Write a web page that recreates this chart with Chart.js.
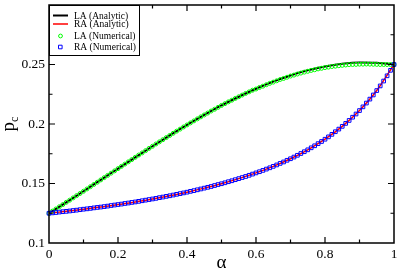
<!DOCTYPE html>
<html><head><meta charset="utf-8">
<script src="https://cdn.jsdelivr.net/npm/chart.js@4.4.1/dist/chart.umd.min.js"></script>
<style>html,body{margin:0;padding:0;background:#fff;}#wrap{width:399px;height:272px;position:relative;}canvas{display:block;}</style>
</head><body><div id="wrap"><canvas id="c" width="399" height="272"></canvas></div>
<script>
const alphaLine = [0,0.05,0.1,0.15,0.2,0.25,0.3,0.35,0.4,0.45,0.5,0.55,0.6,0.65,0.7,0.75,0.8,0.85,0.9,0.95,1];
const laAnalytic = [0.1250,0.1342,0.1435,0.1530,0.1625,0.1720,0.1813,0.1904,0.1992,0.2076,0.2156,0.2229,0.2296,0.2356,0.2408,0.2451,0.2484,0.2506,0.2517,0.2515,0.2500];
const raAnalytic = [0.1250,0.1266,0.1284,0.1302,0.1323,0.1345,0.1370,0.1397,0.1427,0.1461,0.1498,0.1541,0.1589,0.1644,0.1708,0.1783,0.1872,0.1980,0.2113,0.2281,0.2500];
const alphaNum = [0,0.01,0.02,0.03,0.04,0.05,0.06,0.07,0.08,0.09,
0.1,0.11,0.12,0.13,0.14,0.15,0.16,0.17,0.18,0.19,
0.2,0.21,0.22,0.23,0.24,0.25,0.26,0.27,0.28,0.29,
0.3,0.31,0.32,0.33,0.34,0.35,0.36,0.37,0.38,0.39,
0.4,0.41,0.42,0.43,0.44,0.45,0.46,0.47,0.48,0.49,
0.5,0.51,0.52,0.53,0.54,0.55,0.56,0.57,0.58,0.59,
0.6,0.61,0.62,0.63,0.64,0.65,0.66,0.67,0.68,0.69,
0.7,0.71,0.72,0.73,0.74,0.75,0.76,0.77,0.78,0.79,
0.8,0.81,0.82,0.83,0.84,0.85,0.86,0.87,0.88,0.89,
0.9,0.91,0.92,0.93,0.94,0.95,0.96,0.97,0.98,0.99,1];
const laNumerical = [0.1250,0.1268,0.1286,0.1305,0.1323,0.1342,0.1360,0.1379,0.1398,0.1416,
0.1435,0.1454,0.1473,0.1492,0.1511,0.1530,0.1549,0.1568,0.1587,0.1606,
0.1625,0.1644,0.1663,0.1682,0.1701,0.1720,0.1739,0.1757,0.1776,0.1795,
0.1813,0.1832,0.1850,0.1868,0.1886,0.1904,0.1922,0.1940,0.1957,0.1975,
0.1992,0.2009,0.2026,0.2043,0.2060,0.2076,0.2092,0.2109,0.2124,0.2140,
0.2156,0.2171,0.2186,0.2200,0.2215,0.2229,0.2243,0.2257,0.2270,0.2284,
0.2294,0.2307,0.2318,0.2330,0.2342,0.2352,0.2363,0.2374,0.2383,0.2393,
0.2403,0.2411,0.2420,0.2428,0.2436,0.2443,0.2450,0.2456,0.2463,0.2468,
0.2474,0.2478,0.2483,0.2486,0.2490,0.2493,0.2496,0.2499,0.2500,0.2501,
0.2503,0.2503,0.2504,0.2503,0.2502,0.2501,0.2500,0.2500,0.2500,0.2500,0.2500];
const raNumerical = [0.1250,0.1253,0.1256,0.1260,0.1263,0.1266,0.1269,0.1273,0.1276,0.1280,
0.1284,0.1287,0.1291,0.1295,0.1299,0.1302,0.1306,0.1310,0.1315,0.1319,
0.1323,0.1327,0.1332,0.1336,0.1341,0.1345,0.1350,0.1355,0.1360,0.1365,
0.1370,0.1375,0.1381,0.1386,0.1392,0.1397,0.1403,0.1409,0.1415,0.1421,
0.1427,0.1434,0.1440,0.1447,0.1454,0.1461,0.1468,0.1475,0.1483,0.1491,
0.1498,0.1506,0.1515,0.1523,0.1532,0.1541,0.1550,0.1559,0.1569,0.1579,
0.1589,0.1599,0.1610,0.1621,0.1632,0.1644,0.1656,0.1669,0.1681,0.1695,
0.1708,0.1722,0.1737,0.1752,0.1767,0.1783,0.1800,0.1817,0.1835,0.1853,
0.1872,0.1892,0.1913,0.1935,0.1957,0.1980,0.2005,0.2030,0.2057,0.2084,
0.2113,0.2144,0.2176,0.2209,0.2244,0.2281,0.2320,0.2361,0.2405,0.2451,0.2500];
const xTickValues = [0,0.2,0.4,0.6,0.8,1];
const xTickLabels = ['0','0.2','0.4','0.6','0.8','1'];
const xMinorTicks = [0.1,0.3,0.5,0.7,0.9];
const yTickValues = [0.1,0.15,0.2,0.25,0.3];
const yTickLabels = ['0.1','0.15','0.2','0.25',''];
const yMinorTicks = [0.125,0.175,0.225,0.275];
const seriesLabels = ['LA (Analytic)','RA (Analytic)','LA (Numerical)','RA (Numerical)'];

const SERIF = "'Liberation Serif','DejaVu Serif',serif";
const pts = (xs, ys) => xs.map((x, i) => ({x: x, y: ys[i]}));

const decor = {
  id: 'decor',
  afterDraw(chart) {
    const ctx = chart.ctx, a = chart.chartArea;
    const xs = chart.scales.x, ys = chart.scales.y;
    ctx.save();
    ctx.strokeStyle = '#000';
    ctx.lineWidth = 1.5;
    ctx.strokeRect(a.left, a.top, a.right - a.left, a.bottom - a.top);
    ctx.lineWidth = 1.2;
    ctx.beginPath();
    const tick = (list, len) => {
      list.forEach(v => {
        const px = xs.getPixelForValue(v);
        if (v > 0 && v < 1) {
          ctx.moveTo(px, a.bottom); ctx.lineTo(px, a.bottom - len);
          ctx.moveTo(px, a.top); ctx.lineTo(px, a.top + len);
        }
      });
    };
    const ticky = (list, len) => {
      list.forEach(v => {
        const py = ys.getPixelForValue(v);
        if (v > 0.1 && v < 0.3) {
          ctx.moveTo(a.left, py); ctx.lineTo(a.left + len, py);
          ctx.moveTo(a.right, py); ctx.lineTo(a.right - len, py);
        }
      });
    };
    tick(xTickValues, 6); tick(xMinorTicks, 3.5);
    ticky(yTickValues, 6); ticky(yMinorTicks, 3.5);
    ctx.stroke();

    // legend
    const lx = a.left, ly = a.top, lw = 90, lh = 50;
    ctx.fillStyle = '#fff';
    ctx.fillRect(lx, ly, lw, lh);
    ctx.lineWidth = 1;
    ctx.strokeStyle = '#000';
    ctx.strokeRect(lx + 0.5, ly + 0.5, lw, lh);
    const rows = [10.5, 19, 31, 42].map(r => ly + r);
    ctx.font = '9.5px ' + SERIF;
    ctx.textBaseline = 'middle';
    ctx.textAlign = 'left';
    chart.data.datasets.forEach((ds, i) => {
      const y = rows[i];
      if (ds.showLine) {
        ctx.strokeStyle = ds.borderColor;
        ctx.lineWidth = ds.borderWidth;
        ctx.beginPath(); ctx.moveTo(lx + 4, y); ctx.lineTo(lx + 19, y); ctx.stroke();
      } else {
        ctx.strokeStyle = ds.pointBorderColor;
        ctx.lineWidth = 1;
        ctx.beginPath();
        if (ds.pointStyle === 'rect') {
          ctx.rect(lx + 9.5, y - 1.8, 3.6, 3.6);
        } else {
          ctx.arc(lx + 11.5, y, 1.9, 0, Math.PI * 2);
        }
        ctx.stroke();
      }
      ctx.fillStyle = '#000';
      ctx.fillText(ds.label, lx + 25, y + 0.5);
    });

    // axis titles
    ctx.fillStyle = '#000';
    ctx.font = '19px ' + SERIF;
    ctx.textAlign = 'center';
    ctx.textBaseline = 'alphabetic';
    ctx.fillText('α', (a.left + a.right) / 2, 268);

    ctx.save();
    ctx.translate(13.5, (a.top + a.bottom) / 2);
    ctx.rotate(-Math.PI / 2);
    ctx.textAlign = 'left';
    ctx.font = '19px ' + SERIF;
    const wp = ctx.measureText('p').width;
    ctx.font = '12px ' + SERIF;
    const wc = ctx.measureText('c').width;
    const st = -(wp + wc) / 2;
    ctx.font = '19px ' + SERIF;
    ctx.fillText('p', st, 0);
    ctx.font = '12px ' + SERIF;
    ctx.fillText('c', st + wp, 4);
    ctx.restore();
    ctx.restore();
  }
};

new Chart(document.getElementById('c'), {
  type: 'scatter',
  data: {
    datasets: [
      {label: seriesLabels[0], data: pts(alphaLine, laAnalytic), showLine: true, borderColor: '#000000', borderWidth: 2, pointRadius: 0, cubicInterpolationMode: 'monotone', order: 4, clip: false},
      {label: seriesLabels[1], data: pts(alphaLine, raAnalytic), showLine: true, borderColor: '#ff0000', borderWidth: 1.5, pointRadius: 0, cubicInterpolationMode: 'monotone', order: 3, clip: false},
      {label: seriesLabels[2], data: pts(alphaNum, laNumerical), showLine: false, pointStyle: 'circle', pointRadius: 2, pointBorderWidth: 1, pointBorderColor: '#00ff00', pointBackgroundColor: 'rgba(0,0,0,0)', order: 2, clip: false},
      {label: seriesLabels[3], data: pts(alphaNum, raNumerical), showLine: false, pointStyle: 'rect', pointRadius: 2.6, pointBorderWidth: 1, pointBorderColor: '#0000ff', pointBackgroundColor: 'rgba(0,0,0,0)', order: 1, clip: false}
    ]
  },
  options: {
    responsive: false,
    animation: false,
    devicePixelRatio: 1,
    layout: {padding: {left: 0, right: 4, top: 2, bottom: 0}},
    plugins: {legend: {display: false}, tooltip: {enabled: false}},
    scales: {
      x: {
        type: 'linear', min: 0, max: 1,
        afterBuildTicks: s => { s.ticks = xTickValues.map(v => ({value: v})); },
        afterFit: s => { s.height = 29; s.paddingLeft = 0; s.paddingRight = 0; },
        grid: {display: false, drawTicks: false}, border: {display: false},
        ticks: {callback: (v, i) => xTickLabels[i], color: '#000', font: {family: SERIF, size: 13.5}, padding: 3, maxRotation: 0, autoSkip: false}
      },
      y: {
        type: 'linear', min: 0.1, max: 0.3,
        afterBuildTicks: s => { s.ticks = yTickValues.map(v => ({value: v})); },
        afterFit: s => { s.width = 49; s.paddingTop = 0; s.paddingBottom = 0; },
        grid: {display: false, drawTicks: false}, border: {display: false},
        ticks: {callback: (v, i) => yTickLabels[i], color: '#000', font: {family: SERIF, size: 13.5}, padding: 4, autoSkip: false}
      }
    }
  },
  plugins: [decor]
});
</script>
</body></html>
